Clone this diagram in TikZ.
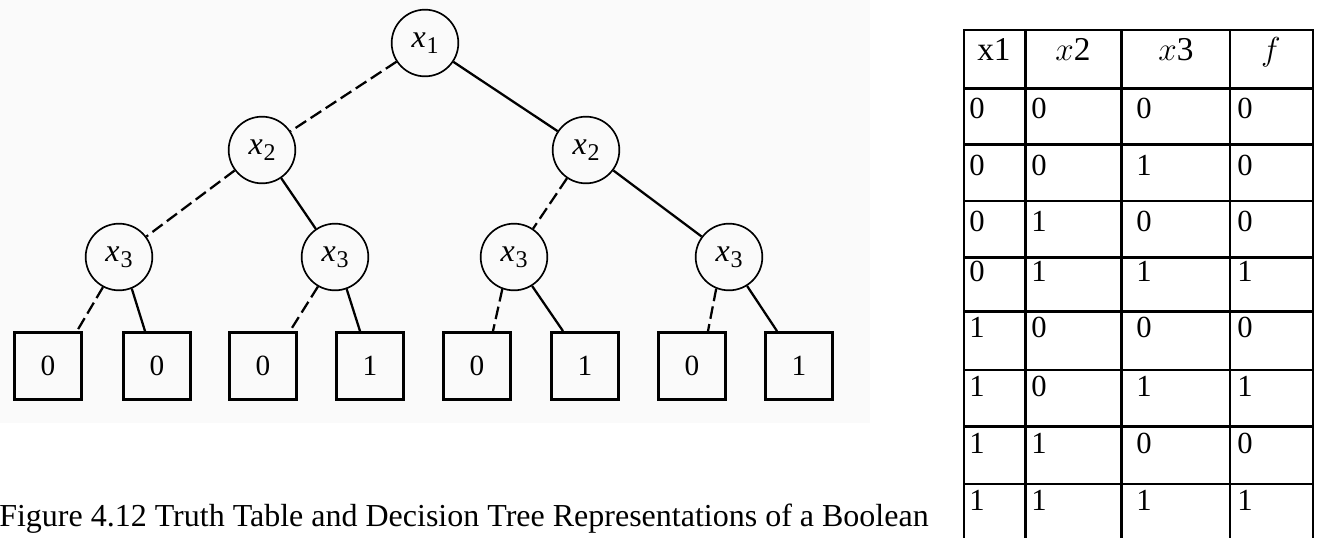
\documentclass[tikz,border=0pt]{standalone}
\usepackage{fontspec}
\setmainfont{Liberation Serif}
\usetikzlibrary{calc}

% variable label: italic x with a lowered index
\newcommand\xvar[1]{\textit{x}\kern0.6pt\raisebox{-4.5pt}{\fontsize{18}{18}\selectfont #1}}

\begin{document}
\begin{tikzpicture}[x=0.75pt,y=-0.75pt,
  var/.style={circle,draw,line width=1.25pt,minimum size=50pt,inner sep=0pt,
    font=\fontsize{24}{24}\selectfont},
  leaf/.style={rectangle,draw,line width=2.4pt,minimum size=50pt,inner sep=0pt,
    font=\fontsize{22}{22}\selectfont},
  yes/.style={line width=1.7pt},
  no/.style={line width=1.7pt,dash pattern=on 9.5pt off 4pt},
  grid/.style={line width=2pt,line cap=rect},
  cell/.style={anchor=base west,inner sep=0pt,font=\fontsize{23}{23}\selectfont},
  head/.style={anchor=base,inner sep=0pt,font=\fontsize{25}{25}\selectfont}
]
\useasboundingbox (0,0) rectangle (1318,537);

% faint backdrop of the tree panel
\fill[black!2] (0,0) rectangle (870,423);

% ---------------- decision tree ----------------
\node[var] (x1)  at (425,43)  {\xvar{1}};
\node[var] (x2a) at (262,150) {\xvar{2}};
\node[var] (x2b) at (586,150) {\xvar{2}};
\node[var] (x3a) at (119,257) {\xvar{3}};
\node[var] (x3b) at (335,257) {\xvar{3}};
\node[var] (x3c) at (514,257) {\xvar{3}};
\node[var] (x3d) at (729,257) {\xvar{3}};

\node[leaf] (l1) at (48,366)  {0};
\node[leaf] (l2) at (157,366) {0};
\node[leaf] (l3) at (263,366) {0};
\node[leaf] (l4) at (370,366) {1};
\node[leaf] (l5) at (477,366) {0};
\node[leaf] (l6) at (585,366) {1};
\node[leaf] (l7) at (692,366) {0};
\node[leaf] (l8) at (799,366) {1};

% dashed = 0 branch, solid = 1 branch
\draw[no]  (x1) -- (x2a);
\draw[yes] (x1) -- (x2b);
\draw[no]  (x2a) -- (x3a);
\draw[yes] (x2a) -- (x3b);
\draw[no]  (x2b) -- (x3c);
\draw[yes] (x2b) -- (x3d);

\draw[no]  (x3a.242) -- ($(l1.north)+(29,0)$);
\draw[yes] (x3a.292) -- ($(l2.north)+(-12,0)$);
\draw[no]  (x3b.240) -- ($(l3.north)+(27,0)$);
\draw[yes] (x3b.290) -- ($(l4.north)+(-10,0)$);
\draw[no]  (x3c.250) -- ($(l5.north)+(16,0)$);
\draw[yes] (x3c.302) -- ($(l6.north)+(-22,0)$);
\draw[no]  (x3d.248) -- ($(l7.north)+(16,0)$);
\draw[yes] (x3d.302) -- ($(l8.north)+(-22,0)$);

% ---------------- truth table ----------------
\foreach \yy in {30,88.3,144.3,201,257.7,311.7,370,426.7,484}
  \draw[grid] (964,\yy) -- (1313,\yy);
\foreach \xx in {964,1025.7,1121.7,1230,1313}
  \draw[grid] (\xx,30) -- (\xx,560);

\node[head,anchor=base west] (h1) at (977,60) {x1};
\node[head] (h2) at (1073,60) {$x$2};
\node[head] (h3) at (1176,60) {$x$3};
\node[head] (h4) at (1271,60) {$f$};

\foreach \yy/\a/\b/\c/\d [count=\r] in {
    118.3/0/0/0/0, 175/0/0/1/0, 231.7/0/1/0/0, 281/0/1/1/1,
    337.3/1/0/0/0, 396/1/0/1/1, 453/1/1/0/0, 510/1/1/1/1}{
  \node[cell] (r\r a) at (969,\yy)  {\a};
  \node[cell] (r\r b) at (1031,\yy) {\b};
  \node[cell] (r\r c) at (1136,\yy) {\c};
  \node[cell] (r\r d) at (1237,\yy) {\d};
}

% ---------------- caption ----------------
\node[anchor=base west,inner sep=0pt,font=\fontsize{24}{24}\selectfont] (cap) at (-1,526)
  {Figure 4.12 Truth Table and Decision Tree Representations of a Boolean};
\end{tikzpicture}
\end{document}
